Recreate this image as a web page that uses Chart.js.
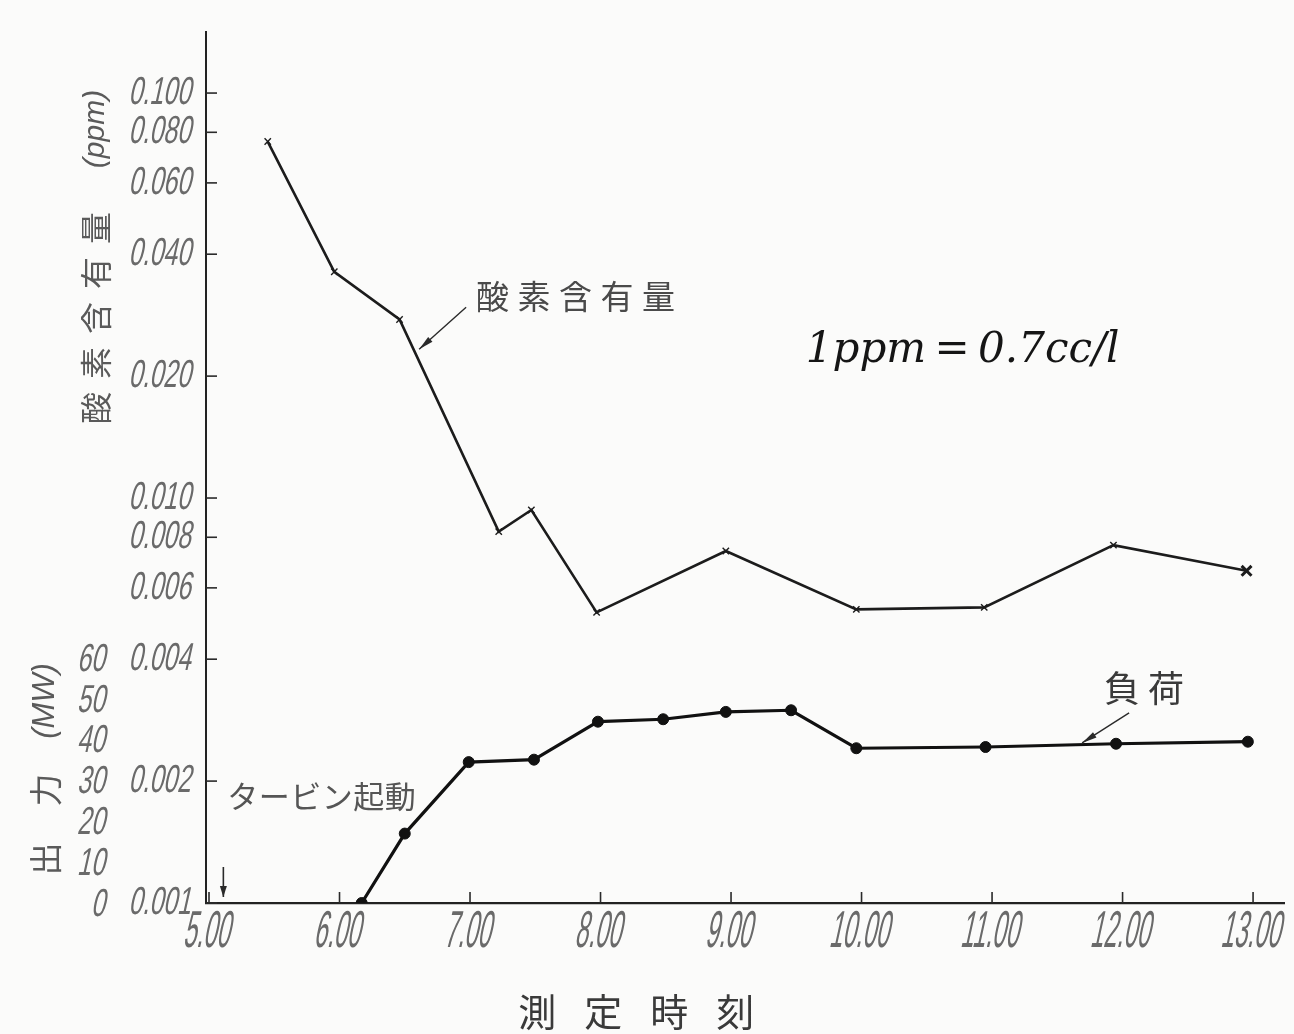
<!DOCTYPE html>
<html>
<head>
<meta charset="utf-8">
<script src="https://cdn.jsdelivr.net/npm/chart.js@4.4.1/dist/chart.umd.min.js"></script>
<style>
  html, body { margin: 0; padding: 0; background: #fbfbfa; }
  canvas { display: block; background: #fbfbfa; }
</style>
</head>
<body>
<canvas id="c" width="1294" height="1034"></canvas>
<script>
// Measurement times in decimal hours
const oxygenTimes = [5.45, 5.96, 6.46, 7.22, 7.47, 7.97, 8.96, 9.96, 10.94, 11.93, 12.95];
// Dissolved oxygen content (ppm)
const oxygenPpm = [0.0759, 0.0362, 0.0276, 0.00826, 0.00934, 0.00522, 0.00740, 0.00531, 0.00537, 0.00765, 0.00661];
// Turbine output (MW)
const loadTimes = [6.17, 6.50, 6.99, 7.49, 7.98, 8.48, 8.96, 9.46, 9.96, 10.95, 11.95, 12.96];
const loadMW = [0, 17.0, 34.5, 35.1, 44.4, 45.0, 46.8, 47.2, 37.9, 38.2, 39.0, 39.5];
// Axis ticks
const hourTicks = [5, 6, 7, 8, 9, 10, 11, 12, 13];
const ppmTicks = [0.001, 0.002, 0.004, 0.006, 0.008, 0.010, 0.020, 0.040, 0.060, 0.080, 0.100];
const mwTicks = [0, 10, 20, 30, 40, 50, 60];
// Turbine start time
const turbineStart = 5.11;

const INK = '#1c1c1c';
const GREY = '#5a5a5a';
const JP = '"Noto Sans CJK JP", "Noto Sans CJK SC", sans-serif';

function line(c, x0, y0, x1, y1) {
  c.beginPath(); c.moveTo(x0, y0); c.lineTo(x1, y1); c.stroke();
}
function arrow(c, x0, y0, x1, y1, head, half) {
  line(c, x0, y0, x1, y1);
  const a = Math.atan2(y1 - y0, x1 - x0);
  const bx = x1 - head * Math.cos(a), by = y1 - head * Math.sin(a);
  c.beginPath();
  c.moveTo(x1, y1);
  c.lineTo(bx + half * Math.sin(a), by - half * Math.cos(a));
  c.lineTo(bx - half * Math.sin(a), by + half * Math.cos(a));
  c.closePath(); c.fill();
}
// Narrow slanted numerals, drawn centred vertically on y
function numLabel(c, text, x, y, size, sx, align) {
  c.save();
  c.font = size + 'px "Liberation Sans", Arial, sans-serif';
  c.fillStyle = '#6a6a6a';
  c.textAlign = align;
  c.textBaseline = 'middle';
  c.translate(x, y);
  c.transform(sx, 0, -0.22, 1, 0, 0);
  c.fillText(text, 0, 0);
  c.restore();
}
// Characters laid out one by one at a fixed pitch
function spaced(c, text, x, y, size, pitch, color) {
  c.save();
  c.font = size + 'px ' + JP;
  c.fillStyle = color;
  c.textAlign = 'left';
  c.textBaseline = 'middle';
  [...text].forEach((ch, i) => c.fillText(ch, x + i * pitch, y));
  c.restore();
}
// Rotated text (reads bottom to top)
function vText(c, text, x, y, font, color) {
  c.save();
  c.translate(x, y);
  c.rotate(-Math.PI / 2);
  c.font = font;
  c.fillStyle = color;
  c.textAlign = 'center';
  c.textBaseline = 'middle';
  c.fillText(text, 0, 0);
  c.restore();
}

const decor = {
  id: 'decor',
  afterDraw(chart) {
    const c = chart.ctx;
    const xs = chart.scales.x, ps = chart.scales.ppm, ms = chart.scales.mw;
    const { left, bottom } = chart.chartArea;
    c.save();
    c.strokeStyle = '#2a2a2a';
    c.fillStyle = '#2a2a2a';
    c.lineWidth = 1.6;

    // tick marks pointing into the plot
    ppmTicks.forEach(v => { const y = ps.getPixelForValue(v); line(c, left, y, left + 11, y); });
    hourTicks.forEach(v => { const x = xs.getPixelForValue(v); line(c, x, bottom, x, bottom - 11); });

    // tick labels
    ppmTicks.forEach(v => numLabel(c, v.toFixed(3), left - 13, ps.getPixelForValue(v), 39, 0.64, 'right'));
    mwTicks.forEach(v => numLabel(c, String(v), ms.right - 13, ms.getPixelForValue(v) + 2, 39, 0.64, 'right'));
    hourTicks.forEach(v => numLabel(c, v.toFixed(2), xs.getPixelForValue(v), bottom + 30, 52, 0.46, 'center'));

    // axis titles
    const jp32 = '32px ' + JP, jp33 = '33px ' + JP;
    ['酸', '素', '含', '有', '量'].forEach((ch, i) => vText(c, ch, left - 110, bottom - 495 - i * 45, jp32, GREY));
    vText(c, '(ppm)', left - 110, bottom - 774, 'italic 30px "Liberation Sans", Arial, sans-serif', GREY);
    vText(c, '出', left - 161, bottom - 44, jp33, GREY);
    vText(c, '力', left - 161, bottom - 113, jp33, GREY);
    vText(c, '(MW)', left - 161, bottom - 202, 'italic 31px "Liberation Sans", Arial, sans-serif', GREY);
    spaced(c, '測定時刻', xs.getPixelForValue(7.37), bottom + 109, 38, 66, '#3a3a3a');

    // series annotations with pointers
    const ox = { x: xs.getPixelForValue(6.61), y: ps.getPixelForValue(0.0233) };
    c.lineWidth = 1.4;
    arrow(c, ox.x + 47, ox.y - 42, ox.x, ox.y, 15, 3.2);
    spaced(c, '酸素含有量', ox.x + 57, ox.y - 53, 33, 41.5, '#4a4a4a');

    const ld = { x: xs.getPixelForValue(11.69), y: ms.getPixelForValue(39.2) };
    arrow(c, ld.x + 47, ld.y - 30, ld.x, ld.y, 15, 3.2);
    spaced(c, '負荷', ld.x + 22, ld.y - 55, 36, 44, '#3a3a3a');

    const ts = xs.getPixelForValue(turbineStart);
    c.lineWidth = 1.6;
    arrow(c, ts, bottom - 36, ts, bottom - 6, 11, 3.5);
    spaced(c, 'タービン起動', ts + 4, ms.getPixelForValue(26.2), 31, 31.5, '#555');

    // conversion note
    const nx = xs.getPixelForValue(9.573), ny = ps.getPixelForValue(0.02167);
    c.font = 'italic 42px "DejaVu Serif", "Liberation Serif", serif';
    c.fillStyle = '#151515';
    c.textAlign = 'left';
    c.textBaseline = 'alphabetic';
    c.fillText('1ppm\u2009=\u20090.7cc/l', nx, ny);
    c.restore();
  }
};

const last = oxygenTimes.length - 1;
new Chart(document.getElementById('c').getContext('2d'), {
  type: 'line',
  data: {
    datasets: [
      {
        label: '酸素含有量',
        data: oxygenTimes.map((t, i) => ({ x: t, y: oxygenPpm[i] })),
        yAxisID: 'ppm',
        borderColor: INK,
        borderWidth: 2.6,
        tension: 0,
        pointStyle: 'crossRot',
        pointRadius: ctx => ctx.dataIndex === last ? 7 : 4.5,
        pointBorderWidth: ctx => ctx.dataIndex === last ? 3 : 1.4,
        pointBorderColor: INK,
        pointBackgroundColor: INK
      },
      {
        label: '負荷',
        data: loadTimes.map((t, i) => ({ x: t, y: loadMW[i] })),
        yAxisID: 'mw',
        borderColor: '#111',
        borderWidth: 3.2,
        tension: 0,
        pointStyle: 'circle',
        pointRadius: 5.5,
        pointBorderWidth: 1,
        pointBorderColor: '#111',
        pointBackgroundColor: '#111'
      }
    ]
  },
  options: {
    responsive: false,
    animation: false,
    devicePixelRatio: 1,
    layout: { padding: { top: 32, right: 6, left: 0, bottom: 0 } },
    plugins: { legend: { display: false }, tooltip: { enabled: false } },
    scales: {
      x: {
        type: 'linear', min: 4.977, max: 13.237,
        grid: { display: false },
        border: { display: true, color: '#222', width: 2.2 },
        ticks: { display: false },
        afterBuildTicks: s => { s.ticks = hourTicks.map(v => ({ value: v })); },
        afterFit: s => { s.height = 131; }
      },
      ppm: {
        type: 'logarithmic', position: 'left', weight: 0,
        min: 0.001, max: 0.1415,
        grid: { display: false },
        border: { display: true, color: '#222', width: 2 },
        ticks: { display: false },
        afterBuildTicks: s => { s.ticks = ppmTicks.map(v => ({ value: v })); },
        afterFit: s => { s.width = 86; }
      },
      mw: {
        type: 'linear', position: 'left', weight: 1,
        min: 0, max: 213.3,
        grid: { display: false },
        border: { display: false },
        ticks: { display: false },
        afterBuildTicks: s => { s.ticks = mwTicks.map(v => ({ value: v })); },
        afterFit: s => { s.width = 120; }
      }
    }
  },
  plugins: [decor]
});
</script>
</body>
</html>
